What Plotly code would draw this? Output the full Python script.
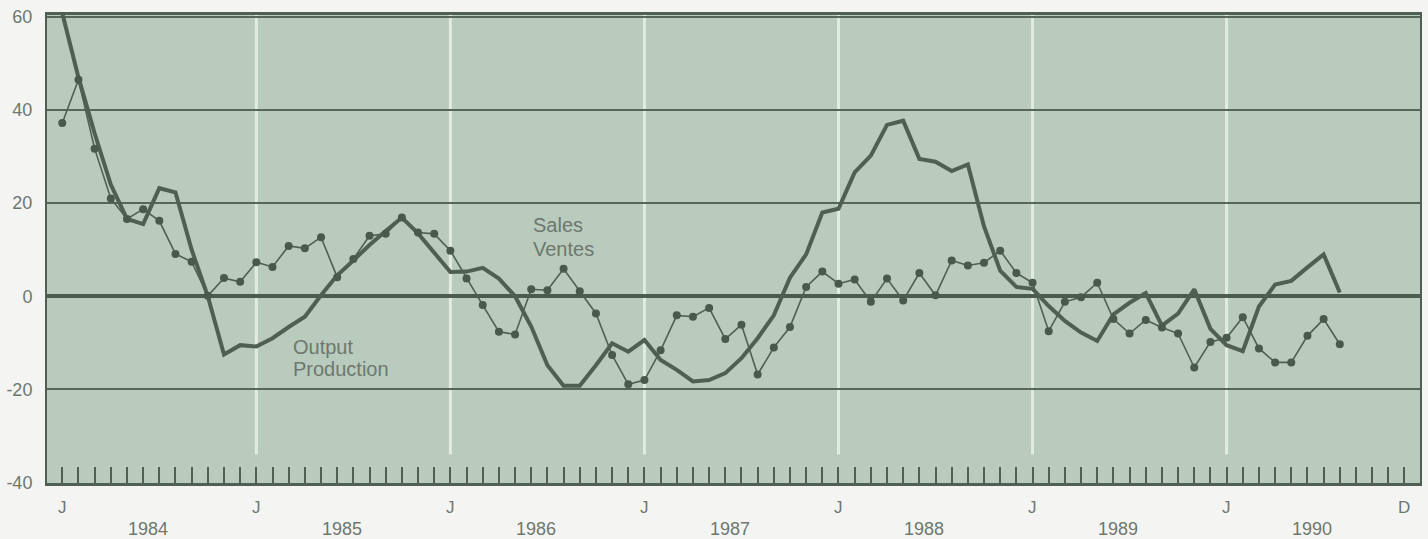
import plotly.graph_objects as go

# Monthly index, Jan 1984 = 0 ... Dec 1990 = 83
years = ["1984", "1985", "1986", "1987", "1988", "1989", "1990"]
n_months = 84

# Year-over-year change (%), Jan 1984 - Aug 1990
output = [60.8, 47, 35, 24, 16.6, 15.5, 23.2, 22.3, 10, 0, -12.5, -10.5,
          -10.8, -9, -6.6, -4.4, 0.2, 4.5, 7.7, 11, 14, 16.9, 13.5, 9.5,
          5.2, 5.3, 6.1, 3.8, 0, -6.5, -14.8, -19.2, -19.2, -14.8, -10.1, -11.9,
          -9.4, -13.7, -15.8, -18.3, -18, -16.5, -13.3, -9, -4.1, 4, 9, 18,
          18.8, 26.6, 30.2, 36.8, 37.7, 29.5, 28.9, 26.9, 28.3, 15, 5.5, 2,
          1.6, -2.1, -5.3, -7.8, -9.6, -3.9, -1.4, 0.7, -6.3, -3.7, 1.5, -7,
          -10.5, -11.8, -2.2, 2.5, 3.3, 6.2, 9, 0.8]

sales = [37.2, 46.5, 31.7, 21, 16.6, 18.7, 16.2, 9.1, 7.4, 0.1, 3.9, 3.1,
         7.3, 6.3, 10.8, 10.3, 12.7, 4.1, 8, 13, 13.4, 16.9, 13.7, 13.4,
         9.8, 3.8, -1.9, -7.6, -8.2, 1.5, 1.3, 5.9, 1.1, -3.7, -12.6, -18.9,
         -18, -11.6, -4.1, -4.4, -2.5, -9.2, -6.1, -16.8, -11, -6.6, 2, 5.3,
         2.7, 3.6, -1.2, 3.8, -0.9, 5, 0.2, 7.7, 6.6, 7.2, 9.8, 5,
         2.9, -7.5, -1.2, -0.2, 2.9, -4.9, -8, -5.1, -6.7, -8, -15.3, -9.8,
         -8.9, -4.5, -11.2, -14.2, -14.2, -8.5, -4.9, -10.3]

y_ticks = [-40, -20, 0, 20, 40, 60]
y_range = [-40.1, 60.4]

ink = "#505f53"
text_col = "#6e776f"
font_family = "Liberation Sans, Arial, sans-serif"


def paper_y(v):
    """Position of a y-axis value as a fraction of the plot height."""
    return (v - y_range[0]) / (y_range[1] - y_range[0])


fig = go.Figure()

fig.add_trace(go.Scatter(
    x=list(range(len(output))), y=output, mode="lines",
    line=dict(color=ink, width=4), hoverinfo="skip", showlegend=False))

fig.add_trace(go.Scatter(
    x=list(range(len(sales))), y=sales, mode="lines+markers",
    line=dict(color=ink, width=1.6),
    marker=dict(color="#4a594d", size=8), hoverinfo="skip", showlegend=False))

# White separators at each January
shapes = []
for k in range(1, len(years)):
    shapes.append(dict(type="line", xref="x", yref="y", x0=12 * k, x1=12 * k,
                       y0=-34, y1=60.4, layer="below",
                       line=dict(color="#e2ebe2", width=3)))

annotations = []
# Month initials under the axis
for k in range(len(years)):
    annotations.append(dict(x=12 * k, y=paper_y(-45.3), xref="x", yref="paper",
                            text="J", showarrow=False, yanchor="middle",
                            font=dict(size=17, color=text_col)))
annotations.append(dict(x=n_months - 1, y=paper_y(-45.3), xref="x", yref="paper",
                        text="D", showarrow=False, yanchor="middle",
                        font=dict(size=17, color=text_col)))
# Year labels
for k, yr in enumerate(years):
    annotations.append(dict(x=12 * k + 5.3, y=paper_y(-50), xref="x", yref="paper",
                            text=yr, showarrow=False, yanchor="middle",
                            font=dict(size=18, color=text_col)))

# Series labels
for txt, xx, yy in [("Sales", 29.0, 15.2), ("Ventes", 29.0, 10.2),
                    ("Output", 14.15, -10.8), ("Production", 14.15, -15.7)]:
    annotations.append(dict(x=xx, y=yy, xref="x", yref="y", text=txt,
                            xanchor="left", yanchor="middle", showarrow=False,
                            font=dict(size=20, color=text_col)))

fig.update_layout(
    width=1428, height=539, autosize=False,
    margin=dict(l=47, r=6, t=15, b=56),
    paper_bgcolor="#f4f5f3", plot_bgcolor="#b9cbbc",
    font=dict(family=font_family, color=text_col),
    shapes=shapes, annotations=annotations,
    xaxis=dict(range=[-0.945, 83.96], tickvals=list(range(n_months)),
               ticktext=[""] * n_months, ticks="inside", ticklen=16,
               tickwidth=2, tickcolor=ink, showgrid=False, zeroline=False,
               showline=True, linecolor=ink, linewidth=3, mirror=True),
    yaxis=dict(range=y_range, tickvals=y_ticks,
               ticktext=[str(v) for v in y_ticks], ticks="",
               tickfont=dict(size=18, color=text_col), ticklabelstandoff=9,
               showgrid=True, gridcolor="#56665a", gridwidth=2,
               zeroline=True, zerolinecolor="#4c5b4f", zerolinewidth=4,
               showline=True, linecolor=ink, linewidth=2, mirror=True),
)

fig.write_html("out.html")
